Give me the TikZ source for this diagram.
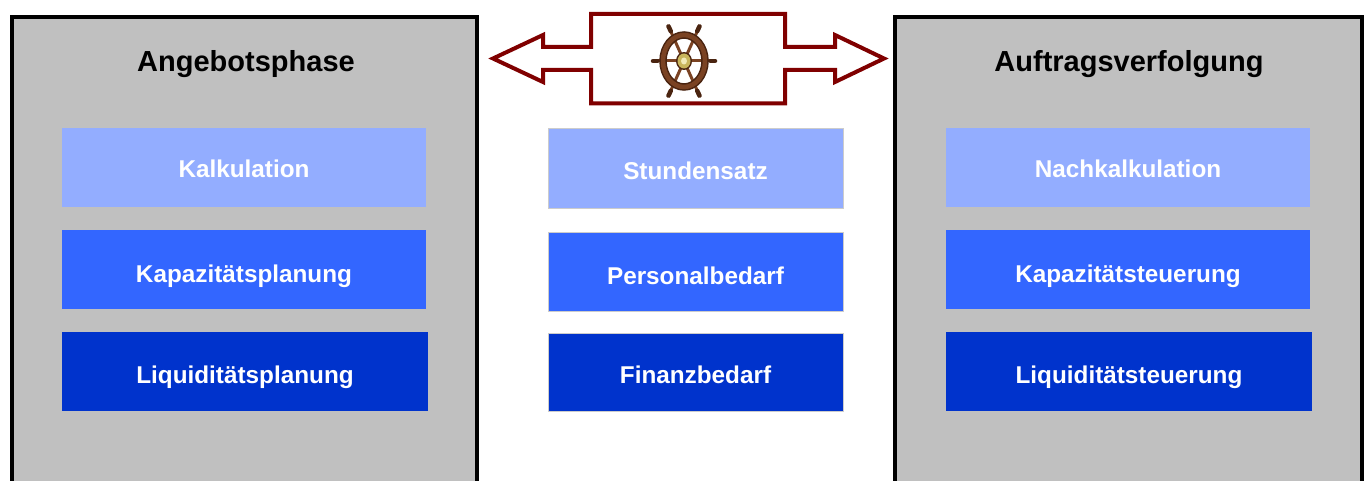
\documentclass[tikz,border=0pt]{standalone}
\usepackage{fontspec}
\setmainfont{Liberation Sans}
\definecolor{panelgray}{HTML}{C0C0C0}
\definecolor{lightblue}{HTML}{93ADFF}
\definecolor{midblue}{HTML}{3366FF}
\definecolor{darkblue}{HTML}{0033CC}
\definecolor{arrowred}{HTML}{800000}
\definecolor{wood}{HTML}{7A4222}
\definecolor{wooddark}{HTML}{4A2410}
\definecolor{brass}{HTML}{C9B55C}
\definecolor{brasslight}{HTML}{F2EAB8}
\begin{document}
\begin{tikzpicture}[x=1pt,y=-1pt,
  panel/.style={draw=black, line width=4pt, fill=panelgray},
  box/.style={rectangle, inner sep=0pt, minimum height=79pt, text=white,
    font=\fontsize{24.3}{28}\selectfont\bfseries, text depth=0pt},
  rowa/.style={text height=21pt},
  rowb/.style={text height=26pt},
  rowc/.style={text height=23pt},
  midbox/.style={box, draw=black!20, line width=1pt, minimum width=295pt},
  sidebox/.style={box, minimum width=364pt},
  title/.style={anchor=base, font=\fontsize{29}{32}\selectfont\bfseries, text=black, inner sep=0pt},
  bigarrow/.style={draw=arrowred, line width=4pt, fill=white, line join=miter},
  spoke/.style={draw=wood, line width=3pt},
  knob/.style={draw=wooddark, line width=4.5pt, line cap=round}
]
\useasboundingbox (0,0) rectangle (1367,481);

% panels
\path[panel] (12,490) -- (12,17) -- (477,17) -- (477,490);
\path[panel] (895,490) -- (895,17) -- (1362,17) -- (1362,490);

% titles
\node[title] (t1) at (246,72) {Angebotsphase};
\node[title] (t2) at (1129,72) {Auftragsverfolgung};

% left boxes
\node[sidebox, rowa, fill=lightblue] (l1) at (244,167.5) {Kalkulation};
\node[sidebox, rowb, fill=midblue] (l2) at (244,269.5) {Kapazitätsplanung};
\node[sidebox, rowc, fill=darkblue, minimum width=366pt] (l3) at (245,371.5) {Liquiditätsplanung};

% middle boxes
\node[midbox, rowa, fill=lightblue] (m1) at (695.5,168.5) {Stundensatz};
\node[midbox, rowb, fill=midblue] (m2) at (695.5,271.5) {Personalbedarf};
\node[midbox, rowc, fill=darkblue, minimum height=78pt] (m3) at (695.5,372) {Finanzbedarf};

% right boxes
\node[sidebox, rowa, fill=lightblue] (r1) at (1128,167.5) {Nachkalkulation};
\node[sidebox, rowb, fill=midblue] (r2) at (1128,269.5) {Kapazitätsteuerung};
\node[sidebox, rowc, fill=darkblue, minimum width=366pt] (r3) at (1129,371.5) {Liquiditätsteuerung};

% double arrow
\path[bigarrow] (493,58.5) -- (543,35) -- (543,47) -- (591,47) -- (591,14) -- (785,14)
  -- (785,47) -- (835,47) -- (835,35) -- (884,58.5) -- (835,82) -- (835,70)
  -- (785,70) -- (785,103.5) -- (591,103.5) -- (591,70) -- (543,70) -- (543,82) -- cycle;

% ship's wheel
\begin{scope}[shift={(684,61)}]
  \foreach \a in {0,60,120,180,240,300} {
    \draw[spoke] (0,0) -- ({31*cos(\a)},{40*sin(\a)});
    \draw[knob] ({26.5*cos(\a)},{34.5*sin(\a)}) -- ({31*cos(\a)},{40*sin(\a)});
  }
  \draw[draw=wooddark, line width=7.5pt] (0,0) ellipse [x radius=21, y radius=26];
  \draw[draw=wood, line width=4.5pt] (0,0) ellipse [x radius=21, y radius=26];
  \fill[wooddark] (0,0) ellipse [x radius=8, y radius=9];
  \fill[brass] (0,0) ellipse [x radius=6.5, y radius=7.5];
  \fill[brasslight] (0,0) ellipse [x radius=3, y radius=3.5];
\end{scope}
\end{tikzpicture}
\end{document}
